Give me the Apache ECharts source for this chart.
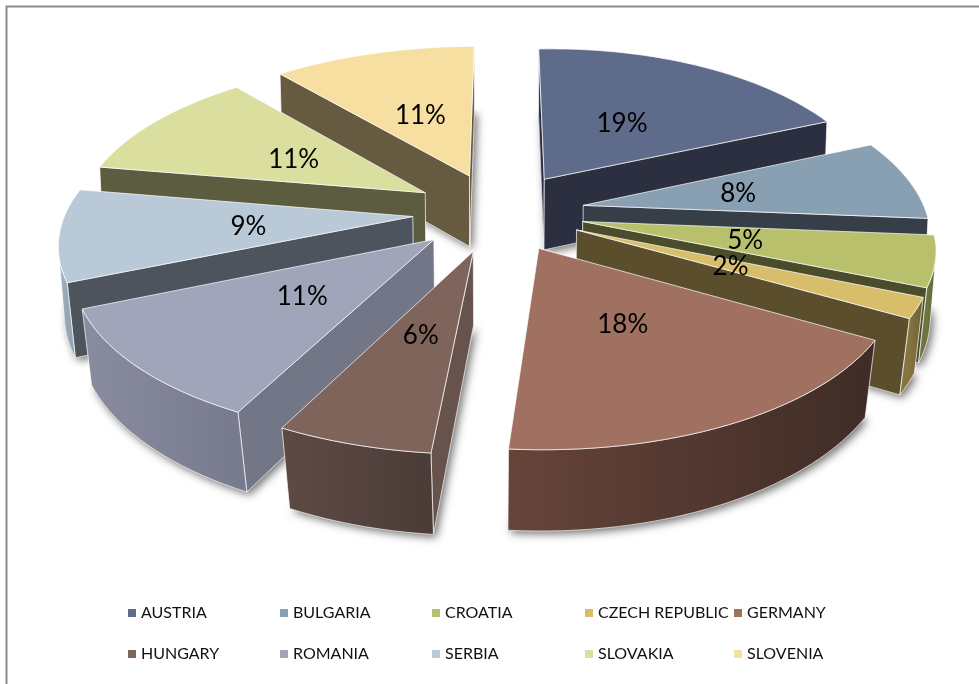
<!DOCTYPE html>
<html><head><meta charset="utf-8">
<style>html,body{margin:0;padding:0;background:#fff}#c{width:979px;height:684px}</style>
<script src="https://cdn.jsdelivr.net/npm/echarts@6/dist/echarts.min.js"></script>
</head><body><div id="c"></div>
<script>
var categories = ['AUSTRIA','BULGARIA','CROATIA','CZECH REPUBLIC','GERMANY','HUNGARY','ROMANIA','SERBIA','SLOVAKIA','SLOVENIA'];
var shares = [19,8,5,2,18,6,11,9,11,11];

var topColors  = ['#5F6B8A','#899FB2','#B8C06C','#D8BE6A','#A07060','#7E645B','#A0A5BA','#B9C9D8','#DADFA0','#F6DFA0'];
var wallColors = ['#2C2F40','#363E47','#4B4C2A','#5B4E2C','#43302A','#67524C','#727686','#4D545D','#5B5C40','#665A40'];
var rimLeft    = ['#3A3F55','#566472','#6F7540','#85743E','#66443A','#5E4A43','#8A8D9F','#A8B8C6','#85886A','#94866A'];
var rimRight   = ['#2C2F40','#4A5662','#5E6336','#6E5F33','#3F2C27','#4B3C38','#777B8D','#95A5B3','#75785C','#85785C'];

// Perspective pie model
var CX=500, CY=212, AX=345, BY=159, PERSP=0.15, HEIGHT=72, EXPLODE=0.25, LABEL_R=0.47, FIRST=-2.5*Math.PI/180;
function proj(X,Y,z){
  var p=1/(1+PERSP*Y), t=1-z*(0.008+0.025*Math.max(0,-Y));
  var narrow=X>0?1-0.03*Math.max(0,Y+0.2):1;          // the far right side recedes
  var shear=8.33*Y+3.47*Y*Y-1;                         // off-centre camera
  var tilt=4*Math.min(0,X);                            // left side sits a little higher
  return [CX+AX*X*p*t*narrow+shear, CY-BY*Y*p+HEIGHT*z*Math.pow(p,0.6)+tilt];
}
var total=shares.reduce(function(a,b){return a+b;},0);
var spans=[], acc=0;
shares.forEach(function(v){ var a=FIRST+acc/total*Math.PI*2; acc+=v; spans.push([a,FIRST+acc/total*Math.PI*2]); });
function pt(i,r,th,z){
  var m=(spans[i][0]+spans[i][1])/2;
  return proj(EXPLODE*Math.sin(m)+r*Math.sin(th), EXPLODE*Math.cos(m)+r*Math.cos(th), z);
}
function area(ps){var s=0;for(var i=0;i<ps.length;i++){var a=ps[i],b=ps[(i+1)%ps.length];s+=a[0]*b[1]-b[0]*a[1];}return s;}
var EDGE={stroke:'rgba(255,255,255,0.7)',lineWidth:1,lineJoin:'round'};
function face(ps,fill,extra){
  var st={fill:fill,stroke:EDGE.stroke,lineWidth:EDGE.lineWidth,lineJoin:'round'};
  if(extra) for(var k in extra) st[k]=extra[k];
  return {type:'polygon',shape:{points:ps},style:st,silent:true};
}
function sliceElements(i){
  var a0=spans[i][0],a1=spans[i][1],n=Math.max(4,Math.ceil((a1-a0)/(Math.PI/90))),top=[],bot=[],k;
  for(k=0;k<=n;k++){var th=a0+(a1-a0)*k/n;top.push(pt(i,1,th,0));bot.push(pt(i,1,th,1));}
  var apexT=pt(i,0,a0,0),apexB=pt(i,0,a0,1),ch=[];
  ch.push(face([apexB].concat(bot),wallColors[i],{stroke:'none',shadowBlur:9,shadowColor:'rgba(0,0,0,0.55)',shadowOffsetX:3,shadowOffsetY:3}));
  var w0=[apexT,top[0],bot[0],apexB], w1=[apexT,top[n],bot[n],apexB];
  if(area(w0)<0) ch.push(face(w0,wallColors[i]));
  if(area(w1)>0) ch.push(face(w1,wallColors[i]));
  var run=[];
  function flush(){
    if(run.length<2){run=[];return;}
    var t=run.map(function(j){return top[j];}),b=run.map(function(j){return bot[j];}).reverse(),xs=t.map(function(q){return q[0];});
    ch.push(face(t.concat(b),{type:'linear',global:true,x:Math.min.apply(null,xs),y:0,x2:Math.max.apply(null,xs),y2:0,
      colorStops:[{offset:0,color:rimLeft[i]},{offset:1,color:rimRight[i]}]}));
    run=[];
  }
  for(k=0;k<n;k++){
    if(area([top[k],top[k+1],bot[k+1],bot[k]])<0){ if(!run.length) run.push(k); run.push(k+1);} else flush();
  }
  flush();
  ch.push(face([apexT].concat(top),topColors[i]));
  return {type:'group',children:ch};
}
var order=categories.map(function(_,i){return i;}).sort(function(a,b){
  var ma=(spans[a][0]+spans[a][1])/2, mb=(spans[b][0]+spans[b][1])/2; return Math.cos(mb)-Math.cos(ma);
});
var series=categories.map(function(name,i){
  return {type:'custom',name:name,coordinateSystem:'none',z:2+order.indexOf(i),silent:true,animation:false,
    itemStyle:{color:topColors[i]},data:[[shares[i]]],
    renderItem:function(){return sliceElements(i);}};
});
series.push({type:'custom',name:'labels',coordinateSystem:'none',z:40,silent:true,animation:false,
  data:shares.map(function(v){return [v];}),
  renderItem:function(params,api){
    var i=params.dataIndex,m=(spans[i][0]+spans[i][1])/2,q=pt(i,LABEL_R,m,0);
    return {type:'text',x:q[0],y:q[1]+1,silent:true,style:{text:api.value(0)+'%',fill:'#000',font:'26px Lato',align:'center',verticalAlign:'middle'}};
  }});
var columns=[[0,5],[1,6],[2,7],[3,8],[4,9]], colLeft=[128,280,432,585,734];
var legends=columns.map(function(c,j){
  return {orient:'vertical',left:colLeft[j],top:605,padding:0,itemGap:25,itemWidth:8,itemHeight:8,icon:'rect',selectedMode:false,
    data:c.map(function(i){return categories[i];}),
    textStyle:{fontFamily:'Lato',fontSize:16,color:'#111',lineHeight:16}};
});
var chart=echarts.init(document.getElementById('c'));
chart.setOption({backgroundColor:'#fff',animation:false,legend:legends,series:series,
  graphic:[{type:'polyline',z:0,silent:true,shape:{points:[[6.5,700],[6.5,6.5],[990,6.5]]},style:{fill:'none',stroke:'#8c8c8c',lineWidth:2}}]});
</script></body></html>
